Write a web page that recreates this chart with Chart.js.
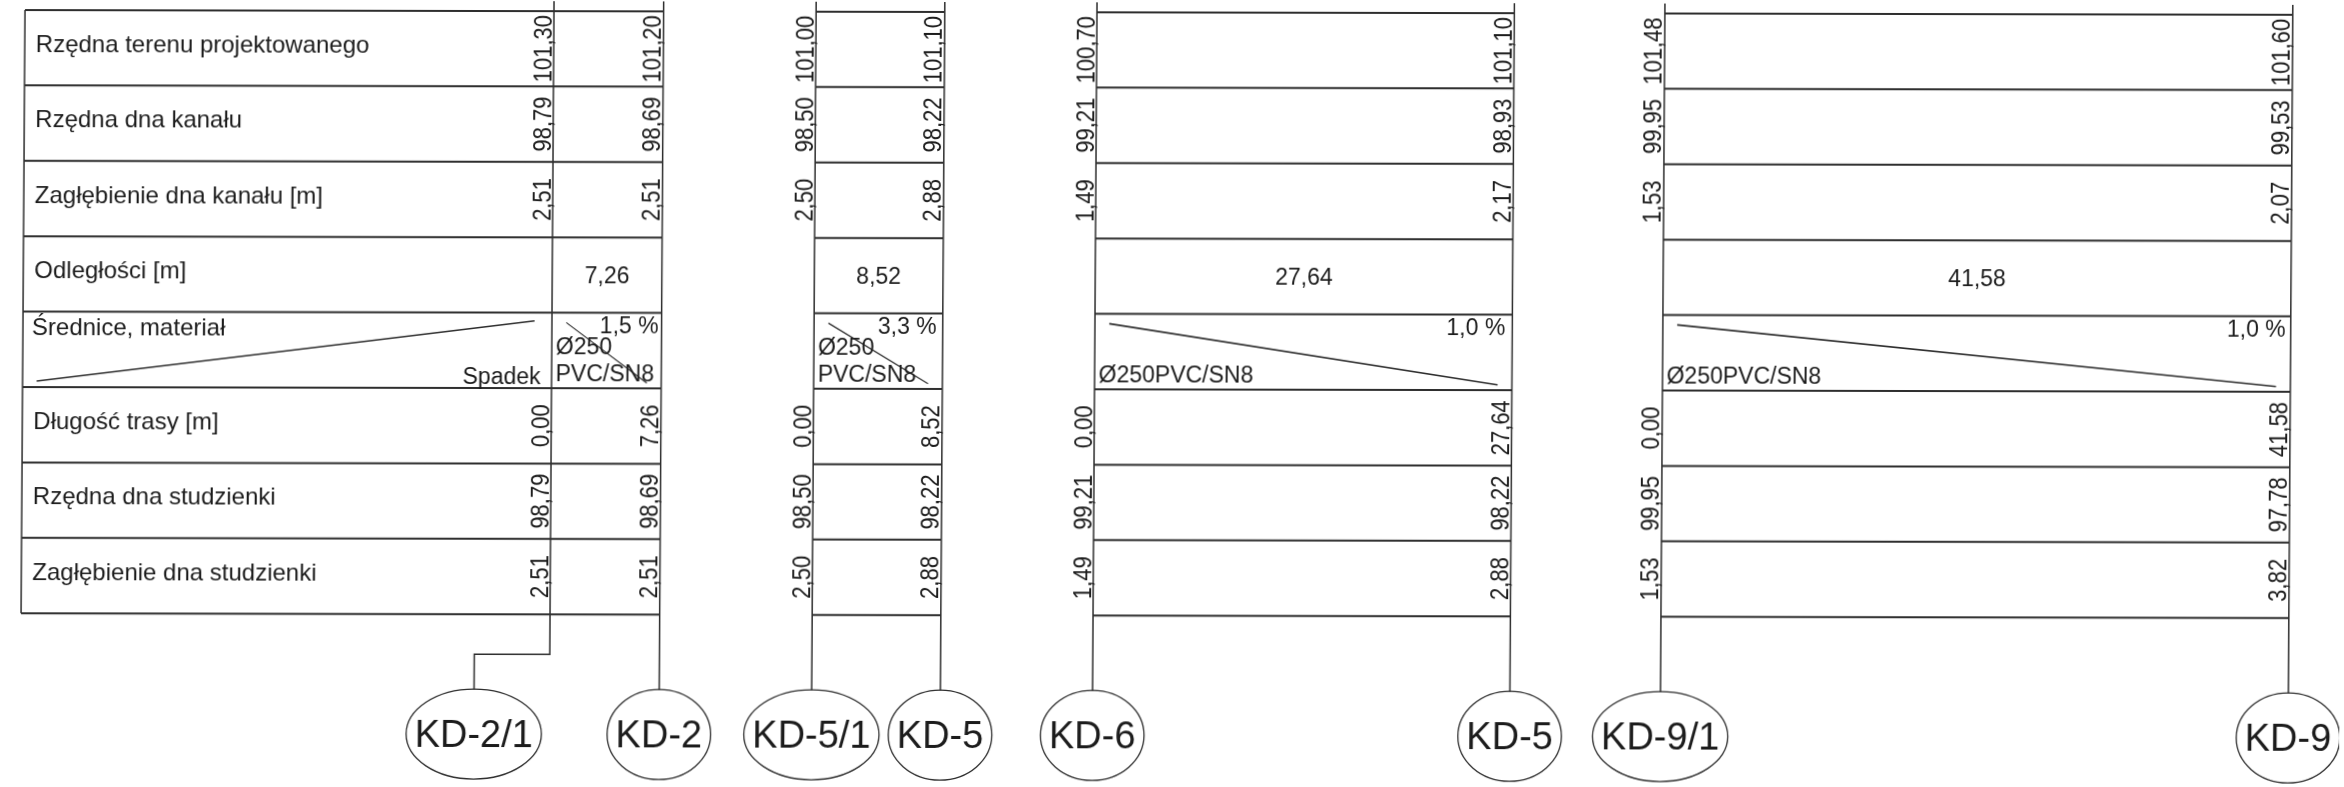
<!DOCTYPE html>
<html>
<head>
<meta charset="utf-8">
<style>
html,body{margin:0;padding:0;background:#fff;overflow:hidden;}
/* the scan is a little skewed, so the whole sheet is too */
#profil{display:block;transform-origin:0 0;transform:matrix(1,.0021,-.0065,1,0,0);}
</style>
<script src="https://cdn.jsdelivr.net/npm/chart.js@4/dist/chart.umd.min.js"></script>
</head>
<body>
<canvas id="profil" width="2344" height="787"></canvas>
<script>
var rowLabels = ["Rzędna terenu projektowanego","Rzędna dna kanału","Zagłębienie dna kanału [m]","Odległości [m]","Średnice, materiał","Długość trasy [m]","Rzędna dna studzienki","Zagłębienie dna studzienki"];
var slopeLabel = "Spadek";

var wellNames = ["KD-2/1","KD-2","KD-5/1","KD-5","KD-6","KD-5","KD-9/1","KD-9"];
var terrain = [101.30,101.20,101.00,101.10,100.70,101.10,101.48,101.60];
var channelBottom = [98.79,98.69,98.50,98.22,99.21,98.93,99.95,99.53];
var channelDepth = [2.51,2.51,2.50,2.88,1.49,2.17,1.53,2.07];
var routeLength = [0.00,7.26,0.00,8.52,0.00,27.64,0.00,41.58];
var wellBottom = [98.79,98.69,98.50,98.22,99.21,98.22,99.95,97.78];
var wellDepth = [2.51,2.51,2.50,2.88,1.49,2.88,1.53,3.82];

var distances = [7.26,8.52,27.64,41.58];
var slopes = [1.5,3.3,1.0,1.0];
var pipeLabels = [["Ø250","PVC/SN8"],["Ø250","PVC/SN8"],["Ø250PVC/SN8"],["Ø250PVC/SN8"]];

// layout, x in metres along the sheet, y in table rows
var sectionStart = [36.69,54.05,72.65,110.26];
var frameLeft = 1.66;
var wellShift = [-5,0,0,0,0,0,0,0];
var slopeInset = [3,6,7,5];
var leaderRow = 8.53, wellTopRow = 9, wellRow = 9.59;
var lineColor = "#2e2e2e";
var textColor = "#1c1c1c";
var fontName = '"Liberation Sans",Arial,sans-serif';

var valueRows = [terrain,channelBottom,channelDepth,null,null,routeLength,wellBottom,wellDepth];

function lineSet(points,width){
	return {data:points,showLine:true,pointRadius:0,borderColor:lineColor,borderWidth:width||1.5,tension:0};
}
function wellX(col){
	var s = Math.floor(col/2);
	return col%2==0 ? sectionStart[s] : sectionStart[s]+distances[s];
}

var datasets = [];
// table rows
for(var r=0;r<=8;r++){
	datasets.push(lineSet([{x:frameLeft,y:r},{x:wellX(1),y:r}],2));
	for(var s=1;s<4;s++){
		datasets.push(lineSet([{x:wellX(s*2),y:r},{x:wellX(s*2+1),y:r}],2));
	}
}
datasets.push(lineSet([{x:frameLeft,y:0},{x:frameLeft,y:8}]));
// well lines, the first one goes round to its circle
for(var c=0;c<wellNames.length;c++){
	var wx = wellX(c);
	datasets.push(lineSet([{x:wx,y:-1},{x:wx,y:leaderRow},{x:wx+wellShift[c],y:leaderRow},{x:wx+wellShift[c],y:wellTopRow}]));
}
// slope marks
datasets.push(lineSet([{x:frameLeft+0.93,y:4.92},{x:sectionStart[0]-1.15,y:4.11}]));
for(var s=0;s<4;s++){
	datasets.push(lineSet([{x:wellX(s*2)+0.95,y:4.13},{x:wellX(s*2+1)-0.95,y:4.93}],s<2?1.2:1.6));
}

function comma(v,d){
	return v.toFixed(d).replace(".",",");
}

var sheetText = {
	id:"sheetText",
	afterDatasetsDraw:function(chart){
		var ctx = chart.ctx, xs = chart.scales.x, ys = chart.scales.y;
		ctx.save();
		ctx.fillStyle = textColor;
		ctx.strokeStyle = lineColor;
		ctx.textBaseline = "alphabetic";

		// row titles
		ctx.font = "24px "+fontName;
		ctx.textAlign = "left";
		for(var r=0;r<rowLabels.length;r++){
			var lx = xs.getPixelForValue(frameLeft)+(r==4?9:11);
			ctx.fillText(rowLabels[r],lx,ys.getPixelForValue(r)+(r==4?23:42));
		}
		ctx.font = "23px "+fontName;
		ctx.textAlign = "right";
		ctx.fillText(slopeLabel,xs.getPixelForValue(sectionStart[0])-11,ys.getPixelForValue(4)+71);

		// distance, slope and pipe of each section
		for(var s=0;s<4;s++){
			var x0 = xs.getPixelForValue(wellX(s*2)), x1 = xs.getPixelForValue(wellX(s*2+1));
			ctx.textAlign = "center";
			ctx.fillText(comma(distances[s],2),(x0+x1)/2,ys.getPixelForValue(3)+46);
			ctx.textAlign = "right";
			ctx.fillText(comma(slopes[s],1)+" %",x1-slopeInset[s],ys.getPixelForValue(4)+20);
			ctx.textAlign = "left";
			var pipe = pipeLabels[s];
			for(var p=0;p<pipe.length;p++){
				ctx.fillText(pipe[pipe.length-1-p],x0+4,ys.getPixelForValue(4)+68-p*27);
			}
		}

		// rotated values next to the well lines, a bit wider across as in the scan
		ctx.font = "22px "+fontName;
		ctx.textAlign = "center";
		for(var r=0;r<valueRows.length;r++){
			if(!valueRows[r]) continue;
			for(var c=0;c<valueRows[r].length;c++){
				ctx.save();
				ctx.translate(xs.getPixelForValue(wellX(c))-2.5,ys.getPixelForValue(r+0.5));
				ctx.rotate(-Math.PI/2);
				ctx.scale(1,1.18);
				ctx.fillText(comma(valueRows[r][c],2),0,0);
				ctx.restore();
			}
		}

		// well circles
		ctx.font = "38px "+fontName;
		ctx.lineWidth = 1.3;
		for(var c=0;c<wellNames.length;c++){
			var cx = xs.getPixelForValue(wellX(c)+wellShift[c]), cy = ys.getPixelForValue(wellRow);
			ctx.beginPath();
			ctx.ellipse(cx,cy,ctx.measureText(wellNames[c]).width/2+8.5,45,0,0,Math.PI*2);
			ctx.stroke();
			ctx.fillText(wellNames[c],cx,cy+13);
		}
		ctx.restore();
	}
};

var myChart = new Chart(document.getElementById("profil"),{
	type:"scatter",
	data:{datasets:datasets},
	plugins:[sheetText],
	options:{
		responsive:false,
		animation:false,
		devicePixelRatio:1,
		layout:{padding:0},
		plugins:{legend:{display:false},tooltip:{enabled:false}},
		scales:{
			x:{type:"linear",display:false,min:0,max:155.23},
			y:{type:"linear",display:false,reverse:true,min:-0.132,max:10.305}
		}
	}
});
</script>
</body>
</html>
